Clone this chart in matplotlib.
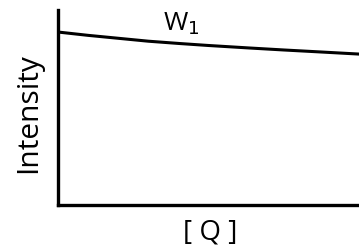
import matplotlib
matplotlib.use("Agg")
import matplotlib.pyplot as plt

# Data (normalised units)
q = [0.0, 0.1, 0.2, 0.3, 0.405, 0.5, 0.638, 0.75, 0.87, 1.0]
intensity = [0.887, 0.870, 0.855, 0.840, 0.828, 0.818, 0.805, 0.795, 0.785, 0.774]
curve_label = "W$_1$"
xlabel = "[ Q ]"
ylabel = "Intensity"

fig = plt.figure(figsize=(3.59, 2.48), dpi=100)
ax = fig.add_axes([58 / 359, 43 / 248, 1 - 58 / 359, 195 / 248])
ax.plot(q, intensity, color="black", lw=2.2)
ax.set_xlim(0, 1)
ax.set_ylim(0, 1)
for s in ("top", "right"):
    ax.spines[s].set_visible(False)
for s in ("left", "bottom"):
    ax.spines[s].set_linewidth(2.4)
ax.set_xticks([])
ax.set_yticks([])

ax.text(0.41, 0.93, curve_label, fontsize=19, family="Open Sans", ha="center", va="center")
fig.text(29 / 359, 1 - 113 / 248, ylabel, rotation=90, fontsize=21.5, family="Open Sans",
         ha="center", va="center")
fig.text(210 / 359, 1 - 233 / 248, xlabel, fontsize=20, family="Open Sans",
         ha="center", va="center")

fig.savefig("out.png", dpi=100)
